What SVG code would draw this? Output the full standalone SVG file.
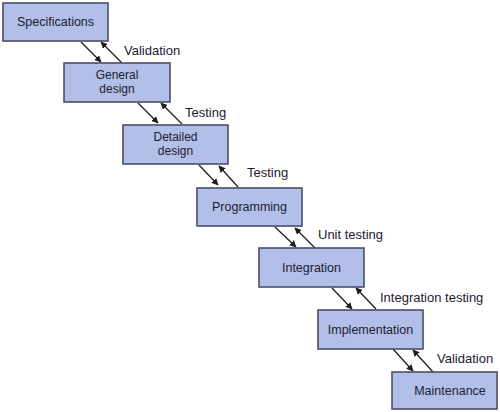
<svg xmlns="http://www.w3.org/2000/svg" width="500" height="412" viewBox="0 0 500 412">
<style>
.box{fill:#b2bfe8;stroke:#4a4e66;stroke-width:1.6}
.t{font-family:"Liberation Sans",Arial,sans-serif;font-size:12.5px;fill:#1e2030;text-anchor:middle}
.t2{font-family:"Liberation Sans",Arial,sans-serif;font-size:12px;fill:#1e2030;text-anchor:middle}
.l{font-family:"Liberation Sans",Arial,sans-serif;font-size:13px;fill:#1e2030}
.a{stroke:#1e1e1e;stroke-width:1.3;fill:none;marker-end:url(#ah)}
</style>
<defs>
<marker id="ah" viewBox="0 0 10 10" refX="9" refY="5" markerWidth="7" markerHeight="7" markerUnits="userSpaceOnUse" orient="auto">
<path d="M0,0 L10,5 L0,10 z" fill="#1e1e1e"/>
</marker>
</defs>
<rect width="500" height="412" fill="#ffffff"/>
<g id="connectors">
<line class="a" x1="81" y1="42" x2="101" y2="62"/>
<line class="a" x1="122" y1="63" x2="101" y2="42"/>
<line class="a" x1="138" y1="103" x2="158" y2="123"/>
<line class="a" x1="182" y1="124" x2="161" y2="103"/>
<line class="a" x1="199" y1="165" x2="218" y2="185"/>
<line class="a" x1="238" y1="187" x2="219" y2="166"/>
<line class="a" x1="275" y1="227" x2="296" y2="247"/>
<line class="a" x1="315" y1="248" x2="295" y2="228"/>
<line class="a" x1="332" y1="288" x2="352" y2="309"/>
<line class="a" x1="376" y1="309" x2="356" y2="288"/>
<line class="a" x1="393" y1="349" x2="413" y2="371"/>
<line class="a" x1="433" y1="372" x2="413" y2="350"/>
<text class="l" x="124" y="55">Validation</text>
<text class="l" x="185" y="117">Testing</text>
<text class="l" x="247" y="177">Testing</text>
<text class="l" x="318" y="239">Unit testing</text>
<text class="l" x="380" y="302">Integration testing</text>
<text class="l" x="437" y="363">Validation</text>
</g>
<g id="specifications">
<rect class="box" x="3" y="3" width="105" height="38"/>
<text class="t" x="55.5" y="26">Specifications</text>
</g>
<g id="general-design">
<rect class="box" x="64" y="63" width="106" height="39"/>
<text class="t2" x="117" y="79">General</text>
<text class="t2" x="117" y="92.5">design</text>
</g>
<g id="detailed-design">
<rect class="box" x="123" y="125" width="105" height="39"/>
<text class="t2" x="175.5" y="141">Detailed</text>
<text class="t2" x="175.5" y="154.5">design</text>
</g>
<g id="programming">
<rect class="box" x="197" y="188" width="105" height="38"/>
<text class="t" x="249.5" y="211">Programming</text>
</g>
<g id="integration">
<rect class="box" x="259" y="248" width="105" height="39"/>
<text class="t" x="311.5" y="272">Integration</text>
</g>
<g id="implementation">
<rect class="box" x="318" y="310" width="105" height="39"/>
<text class="t" x="370.5" y="334">Implementation</text>
</g>
<g id="maintenance">
<rect class="box" x="392" y="372" width="105" height="37"/>
<text class="t" x="450" y="395">Maintenance</text>
</g>
</svg>
